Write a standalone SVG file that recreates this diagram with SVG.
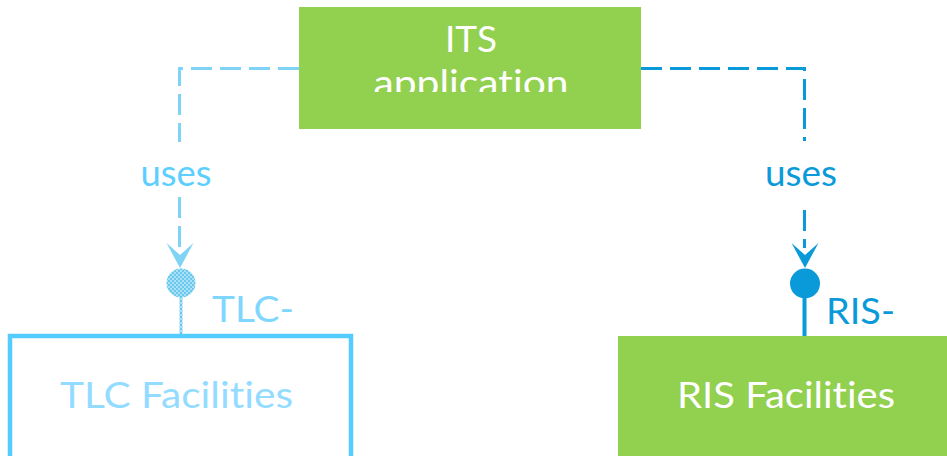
<svg xmlns="http://www.w3.org/2000/svg" width="947" height="456" viewBox="0 0 947 456">
<style>
text{font-family:Lato,"Open Sans","Liberation Sans",sans-serif;font-variant-ligatures:none;font-feature-settings:"liga" 0,"clig" 0;}
.lbl{font-size:36px;}
.dashL{fill:none;stroke:#7fd3f4;stroke-width:3;stroke-dasharray:21 8;}
.dashR{fill:none;stroke:#0b9ad9;stroke-width:3;stroke-dasharray:21 8;}
</style>
<defs>
<clipPath id="clipITS"><rect x="299" y="7" width="342" height="85"/></clipPath>
<pattern id="hatch" width="4" height="4" patternUnits="userSpaceOnUse">
<rect width="4" height="4" fill="#a9e2f7"/>
<rect width="2" height="2" fill="#6cc7ec"/>
<rect x="2" y="2" width="2" height="2" fill="#6cc7ec"/>
</pattern>
</defs>
<g id="connectors">
<g id="conn-tlc">
<path class="dashL" d="M299,68.5 H179.5 V142"/>
<path class="dashL" d="M179.5,197 V248"/>
<path d="M180,268 L166.5,243 L180,255 L193.5,243 Z" fill="#7fd3f4"/>
<text x="176" y="186" class="lbl" fill="#5ccfff" text-anchor="middle" textLength="71" lengthAdjust="spacingAndGlyphs">uses</text>
<rect x="179.5" y="296" width="3" height="38" fill="url(#hatch)"/>
<circle cx="181" cy="283" r="14.5" fill="url(#hatch)"/>
<text x="212" y="322" class="lbl" fill="#7fd6ff" textLength="82" lengthAdjust="spacingAndGlyphs">TLC-</text>
</g>
<g id="conn-ris">
<path class="dashR" d="M641,68.5 H804.5 V141"/>
<path class="dashR" d="M804.5,210 V248"/>
<path d="M805,268 L791.5,243 L805,255 L818.5,243 Z" fill="#0b9ad9"/>
<text x="801" y="186" class="lbl" fill="#0b9ad9" text-anchor="middle" textLength="72" lengthAdjust="spacingAndGlyphs">uses</text>
<rect x="802.5" y="296" width="4" height="40" fill="#0b9ad9"/>
<circle cx="805" cy="283.5" r="15" fill="#0b9ad9"/>
<text x="826" y="324" class="lbl" fill="#0b9ad9" textLength="69" lengthAdjust="spacingAndGlyphs">RIS-</text>
</g>
</g>
<g id="its-application">
<rect x="299" y="7" width="342" height="122" fill="#92d050"/>
<g clip-path="url(#clipITS)" fill="#ffffff">
<text x="471" y="52" class="lbl" text-anchor="middle" textLength="52" lengthAdjust="spacingAndGlyphs">ITS</text>
<text x="471" y="96" class="lbl" text-anchor="middle" textLength="195" lengthAdjust="spacingAndGlyphs">application</text>
</g>
</g>
<g id="tlc-facilities">
<rect x="10" y="336" width="341" height="200" fill="#ffffff" stroke="#55ccff" stroke-width="4.5"/>
<text x="60" y="408" class="lbl" fill="#94dcff" textLength="233" lengthAdjust="spacingAndGlyphs">TLC Facilities</text>
</g>
<g id="ris-facilities">
<rect x="618" y="336" width="340" height="130" fill="#92d050"/>
<text x="677" y="408" class="lbl" fill="#ffffff" textLength="218" lengthAdjust="spacingAndGlyphs">RIS Facilities</text>
</g>
</svg>
